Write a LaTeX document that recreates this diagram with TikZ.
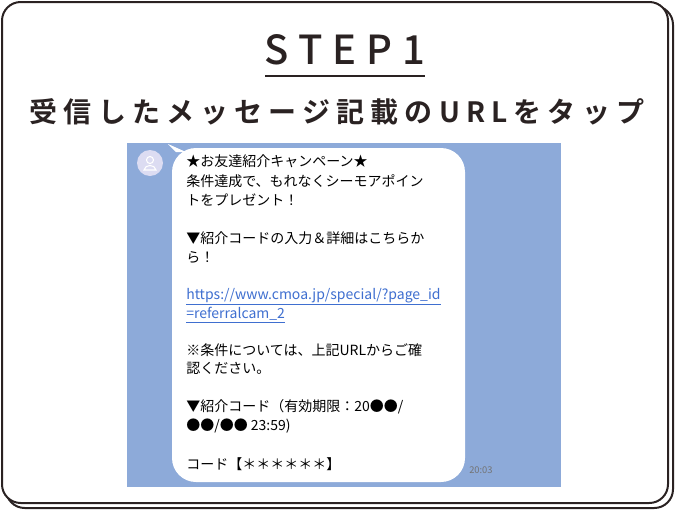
\documentclass[tikz,border=0pt]{standalone}
\usepackage{fontspec}
\setmainfont{Noto Sans CJK JP}
\newfontfamily\jpbold{Noto Sans CJK JP Bold}
\newfontfamily\titlefont[LetterSpace=25]{Noto Sans CJK JP Medium}
\newfontfamily\subfont[LetterSpace=22]{Noto Sans CJK JP Bold}
\definecolor{inkdark}{HTML}{2A2222}
\definecolor{chatblue}{HTML}{8DAAD9}
\definecolor{linkblue}{HTML}{3F6FD0}
\definecolor{avatarc}{HTML}{DCDCF2}
\begin{document}
\begin{tikzpicture}[x=0.75pt,y=-0.75pt,
    msgline/.style={anchor=base west, inner sep=0pt, font=\fontsize{10.5}{12}\selectfont, text=black}
  ]
  \useasboundingbox (0,0) rectangle (676,511);
  % frame
  \draw[inkdark, line width=1.5pt, rounded corners=14pt] (6,6) rectangle (673,508);
  \draw[inkdark, line width=1.5pt, fill=white, rounded corners=14pt] (2,2) rectangle (668,503);
  % heading
  \node[inner sep=0pt, text=inkdark, font=\titlefont\fontsize{30}{32}\selectfont] (title) at (345,50) {STEP1};
  \draw[inkdark, line width=1.3pt] (265,76) -- (425,76);
  \node[inner sep=0pt, text=inkdark, font=\subfont\fontsize{21}{23}\selectfont] (subtitle) at (337,112) {受信したメッセージ記載のURLをタップ};
  % chat screenshot
  \fill[chatblue] (127,143) rectangle (561,487);
  \fill[avatarc] (150,163) circle (13);
  \draw[white, line width=0.8pt] (150,160) circle (3.5) (144,170) .. controls (145,164) and (155,164) .. (156,170) -- cycle;
  \fill[white, rounded corners=18pt] (172,148) rectangle (465,482);
  \fill[white] (176,152) -- (168,144) -- (186,152) -- cycle;
  \node[anchor=base west, inner sep=0pt, text=black!55, font=\fontsize{7}{8}\selectfont] (time) at (469,473) {20:03};
  % message
  \node[msgline] (l1) at (186,166) {★お友達紹介キャンペーン★};
  \node[msgline] (l2) at (186,186) {条件達成で、もれなくシーモアポイン};
  \node[msgline] (l3) at (186,205) {トをプレゼント！};
  \node[msgline] (l4) at (186,243) {▼紹介コードの入力＆詳細はこちらか};
  \node[msgline] (l5) at (186,262) {ら！};
  \node[msgline, text=linkblue] (l6) at (186,299) {\underline{https://www.cmoa.jp/special/?page\_id}};
  \node[msgline, text=linkblue] (l7) at (186,318) {\underline{=referralcam\_2}};
  \node[msgline] (l8) at (186,355) {※条件については、上記URLからご確};
  \node[msgline] (l9) at (186,373) {認ください。};
  \node[msgline] (l10) at (186,411) {▼紹介コード（有効期限：20●●/};
  \node[msgline] (l11) at (186,430) {●●/●● 23:59)};
  \node[msgline] (l12) at (186,469) {コード【＊＊＊＊＊＊】};
\end{tikzpicture}
\end{document}
